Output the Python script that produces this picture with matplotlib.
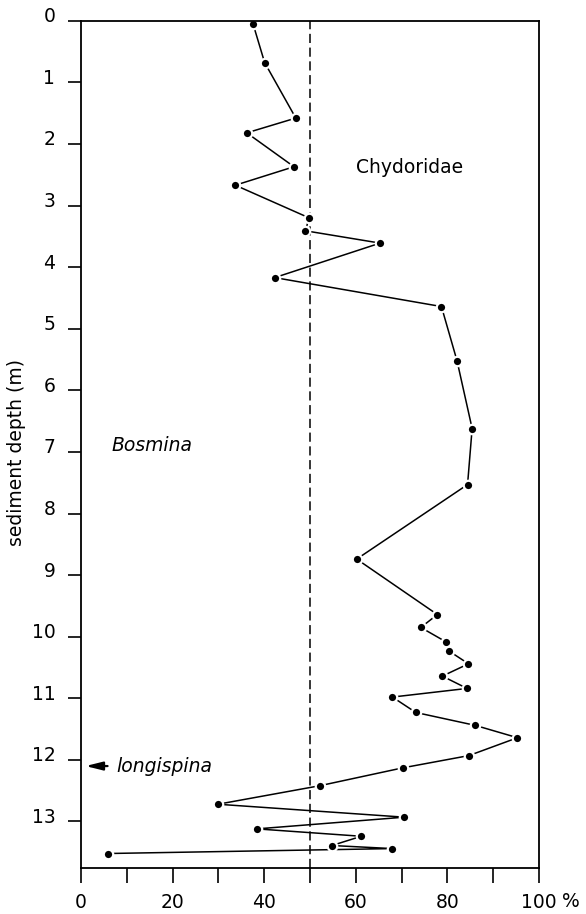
import matplotlib
matplotlib.use("Agg")
import matplotlib.pyplot as plt
from matplotlib.transforms import ScaledTranslation

plt.rcParams['font.family'] = ['DejaVu Sans']

# data: depth (m) and % Bosmina
depth = [0.06, 0.68, 1.58, 1.82, 2.37, 2.67, 3.20, 3.41, 3.61, 4.17,
         4.64, 5.52, 6.62, 7.53, 8.74, 9.64, 9.85, 10.08, 10.23, 10.44,
         10.64, 10.84, 10.98, 11.23, 11.44, 11.64, 11.93, 12.13, 12.42, 12.72,
         12.93, 13.12, 13.24, 13.39, 13.44, 13.52]
percent = [37.6, 40.1, 46.9, 36.2, 46.5, 33.7, 49.8, 49.0, 65.3, 42.3,
           78.7, 82.1, 85.4, 84.4, 60.2, 77.8, 74.2, 79.6, 80.3, 84.6,
           78.9, 84.3, 68.0, 73.1, 86.1, 95.3, 84.7, 70.2, 52.1, 29.9,
           70.6, 38.4, 61.2, 54.8, 68.0, 5.9]

xticks = [0, 10, 20, 30, 40, 50, 60, 70, 80, 90, 100]
xticklabels = ["0", "", "20", "", "40", "", "60", "", "80", "", "100"]
yticks = list(range(0, 14))
half_line = 50
longispina_depth = 12.1

# figure
fig = plt.figure(figsize=(5.86, 9.14), dpi=100)
ax = fig.add_axes([0.1382, 0.05, 0.7816, 0.9273])

# dashed 50 % line
ax.axvline(half_line, color="black", lw=1.1, linestyle=(0, (6, 3)))

# profile, white ring round the dots so the line stops short
ax.plot(percent, depth, color="black", lw=1.1, marker="o", markersize=6.8,
        markerfacecolor="black", markeredgecolor="white", markeredgewidth=1.6)

ax.set_xlim(0, 100)
ax.set_ylim(13.76, 0)

# axes
for s in ax.spines.values():
    s.set_linewidth(1.3)
ax.set_xticks(xticks)
ax.set_xticklabels(xticklabels)
ax.set_yticks(yticks)
ax.tick_params(axis="x", direction="out", length=10.5, width=1.2, pad=7, labelsize=13.5)
ax.tick_params(axis="y", direction="out", length=9.5, width=1.2, pad=9, labelsize=13.5)

# y labels sit a bit above their ticks
offset = ScaledTranslation(0, 0.06, fig.dpi_scale_trans)
for lab in ax.get_yticklabels():
    lab.set_transform(lab.get_transform() + offset)

ax.set_ylabel("sediment depth (m)", fontsize=13.5)
ax.yaxis.set_label_coords(-0.12, 0.49)

# % sign after 100
ax.text(1.07, -0.039, "%", transform=ax.transAxes, fontsize=13.5,
        ha="center", va="center")

# labels in the plot
ax.text(71.7, 2.39, "Chydoridae", fontsize=13.5, ha="center", va="center")
ax.text(6.6, 6.9, "Bosmina", fontsize=13.5, style="italic", ha="left", va="center")
ax.annotate("", (1.0, longispina_depth), (5.8, longispina_depth),
            arrowprops=dict(arrowstyle="-|>,head_length=1.0,head_width=0.25",
                            lw=1.6, color="black", shrinkA=0, shrinkB=0))
ax.text(7.8, longispina_depth, "longispina", fontsize=13.5, style="italic",
        ha="left", va="center")

fig.savefig("out.png", dpi=100)
